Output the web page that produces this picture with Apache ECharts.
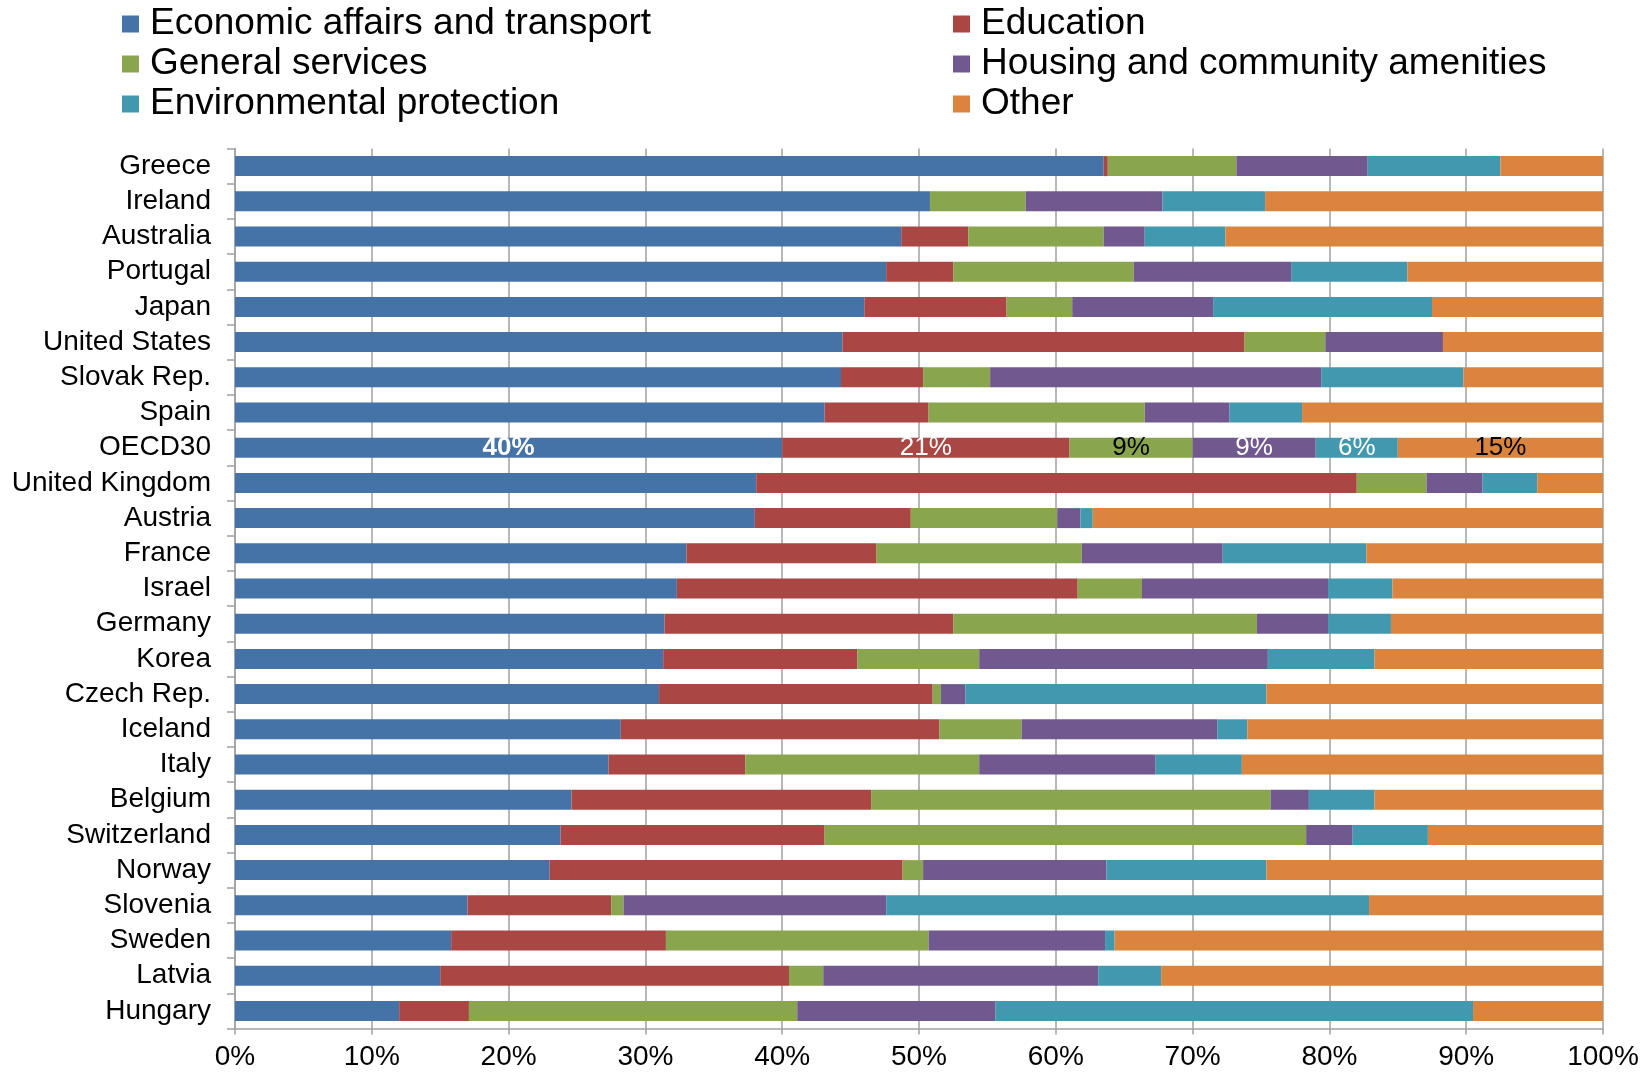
<!DOCTYPE html>
<html>
<head>
<meta charset="utf-8">
<script src="https://cdn.jsdelivr.net/npm/echarts@6/dist/echarts.min.js"></script>
<style>
  html, body { margin: 0; padding: 0; background: #fff; }
  #chart { width: 1650px; height: 1072px; }
</style>
</head>
<body>
<div id="chart"></div>
<script>
// Composition of spending by function, share of total (%)
const countries = ['Greece', 'Ireland', 'Australia', 'Portugal', 'Japan', 'United States', 'Slovak Rep.', 'Spain', 'OECD30',
  'United Kingdom', 'Austria', 'France', 'Israel', 'Germany', 'Korea', 'Czech Rep.', 'Iceland', 'Italy', 'Belgium',
  'Switzerland', 'Norway', 'Slovenia', 'Sweden', 'Latvia', 'Hungary'];

const economicAffairs = [63.5, 50.8, 48.7, 47.6, 46.0, 44.4, 44.3, 43.1, 40, 38.1, 38.0, 33.0, 32.3, 31.4, 31.3, 31.0, 28.2, 27.3, 24.6, 23.8, 23.0, 17.0, 15.8, 15.0, 12.0];
const education       = [0.3, 0, 4.9, 4.9, 10.4, 29.4, 6.0, 7.6, 21, 43.9, 11.4, 13.9, 29.3, 21.1, 14.2, 20.0, 23.3, 10.0, 21.9, 19.3, 25.8, 10.5, 15.7, 25.5, 5.1];
const generalServices = [9.4, 7.0, 9.9, 13.2, 4.8, 5.9, 4.9, 15.8, 9, 5.1, 10.7, 15.0, 4.7, 22.2, 8.9, 0.6, 6.0, 17.1, 29.2, 35.2, 1.5, 0.9, 19.2, 2.5, 24.0];
const housing         = [9.6, 10.0, 3.0, 11.5, 10.3, 8.6, 24.2, 6.2, 9, 4.1, 1.7, 10.3, 13.6, 5.2, 21.1, 1.8, 14.3, 12.9, 2.8, 3.4, 13.4, 19.2, 12.9, 20.1, 14.5];
const environment     = [9.7, 7.5, 5.9, 8.5, 16.0, 0, 10.4, 5.3, 6, 4.0, 0.9, 10.5, 4.7, 4.6, 7.8, 22.0, 2.2, 6.3, 4.8, 5.5, 11.7, 35.3, 0.7, 4.6, 34.9];
const other           = [7.5, 24.7, 27.6, 14.3, 12.5, 11.7, 10.2, 22.0, 15, 4.8, 37.3, 17.3, 15.4, 15.5, 16.7, 24.6, 26.0, 26.4, 16.7, 12.8, 24.6, 17.1, 35.7, 32.3, 9.5];

const seriesNames = ['Economic affairs and transport', 'Education', 'General services',
  'Housing and community amenities', 'Environmental protection', 'Other'];
const seriesValues = [economicAffairs, education, generalServices, housing, environment, other];
const seriesColors = ['#4572A7', '#AA4643', '#89A54E', '#71588F', '#4198AF', '#DB843D'];
const labelColors  = ['#ffffff', '#ffffff', '#000000', '#ffffff', '#ffffff', '#000000'];
const labelWeights = ['bold', 'normal', 'normal', 'normal', 'normal', 'normal'];
const xTicks = { min: 0, max: 100, interval: 10 };

const labelledRow = 'OECD30';
const FONT = '"Liberation Sans", Arial, sans-serif';
const GRID_COLOR = '#A0A0A0';

const series = seriesNames.map((name, i) => ({
  name,
  type: 'bar',
  stack: 'total',
  barWidth: 20,
  itemStyle: { color: seriesColors[i] },
  emphasis: { disabled: true },
  data: seriesValues[i].map((v, j) => {
    if (countries[j] !== labelledRow) return v;
    return {
      value: v,
      label: {
        show: true,
        position: 'inside',
        formatter: '{c}%',
        color: labelColors[i],
        fontFamily: FONT,
        fontSize: 26,
        fontWeight: labelWeights[i]
      }
    };
  })
}));

const legendText = { fontFamily: FONT, fontSize: 37, color: '#000', lineHeight: 40, padding: [0, 0, 0, 6] };

const chart = echarts.init(document.getElementById('chart'), null, { renderer: 'canvas' });
chart.setOption({
  backgroundColor: '#ffffff',
  animation: false,
  legend: [
    {
      data: [seriesNames[0], seriesNames[2], seriesNames[4]],
      orient: 'vertical',
      left: 117, top: -1,
      itemWidth: 17, itemHeight: 17, itemGap: 0,
      icon: 'rect',
      textStyle: legendText
    },
    {
      data: [seriesNames[1], seriesNames[3], seriesNames[5]],
      orient: 'vertical',
      left: 948, top: -1,
      itemWidth: 17, itemHeight: 17, itemGap: 0,
      icon: 'rect',
      textStyle: legendText
    }
  ],
  grid: { left: 235, right: 47, top: 148.5, bottom: 43.5, containLabel: false },
  xAxis: {
    type: 'value',
    min: xTicks.min, max: xTicks.max, interval: xTicks.interval,
    axisLine: { show: true, lineStyle: { color: GRID_COLOR, width: 1.5 } },
    axisTick: { show: true, length: 6, lineStyle: { color: GRID_COLOR, width: 1.5 } },
    splitLine: { show: true, lineStyle: { color: GRID_COLOR, width: 1.5 } },
    axisLabel: { formatter: '{value}%', fontFamily: FONT, fontSize: 28, color: '#000', margin: 15 }
  },
  yAxis: {
    type: 'category',
    inverse: true,
    data: countries,
    axisLine: { show: true, lineStyle: { color: GRID_COLOR, width: 1.5 } },
    axisTick: { show: true, length: 8, alignWithLabel: false, interval: 0, lineStyle: { color: GRID_COLOR, width: 1.5 } },
    axisLabel: { interval: 0, fontFamily: FONT, fontSize: 28, color: '#000', margin: 24, padding: [3, 0, 0, 0] }
  },
  series
});
</script>
</body>
</html>
